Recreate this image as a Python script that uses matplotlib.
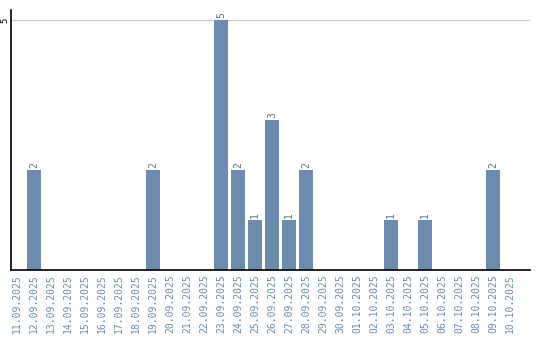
import matplotlib
matplotlib.use('Agg')
import matplotlib.pyplot as plt

dates = ['11.09.2025', '12.09.2025', '13.09.2025', '14.09.2025', '15.09.2025',
         '16.09.2025', '17.09.2025', '18.09.2025', '19.09.2025', '20.09.2025',
         '21.09.2025', '22.09.2025', '23.09.2025', '24.09.2025', '25.09.2025',
         '26.09.2025', '27.09.2025', '28.09.2025', '29.09.2025', '30.09.2025',
         '01.10.2025', '02.10.2025', '03.10.2025', '04.10.2025', '05.10.2025',
         '06.10.2025', '07.10.2025', '08.10.2025', '09.10.2025', '10.10.2025']
counts = [0, 2, 0, 0, 0, 0, 0, 0, 2, 0,
          0, 0, 5, 2, 1, 3, 1, 2, 0, 0,
          0, 0, 1, 0, 1, 0, 0, 0, 2, 0]

bar_color = '#6b8cae'
label_color = '#6a8caf'

plt.rcParams['font.family'] = 'DejaVu Sans Mono'

fig = plt.figure(figsize=(5.4, 3.4), dpi=100)
ax = fig.add_axes([11 / 540, 70 / 340, 519 / 540, 260 / 340])

x = range(len(dates))
bars = ax.bar(x, counts, width=0.82, color=bar_color, zorder=2)
for xi, v in zip(x, counts):
    if v > 0:
        ax.text(xi, v + 0.05, str(v), rotation=90, ha='center', va='bottom',
                fontsize=7, color='#5f6f80')

ax.set_xlim(-0.35, 30.18)
ax.set_ylim(0, 5.2)
ax.set_yticks([5])
ax.set_yticklabels(['5'], rotation=90, va='center', fontsize=6.5)
ax.yaxis.grid(True, color='#cccccc', linewidth=1, zorder=0)
ax.set_xticks(list(x))
ax.set_xticklabels(dates, rotation=90, fontsize=7, color=label_color)
ax.tick_params(axis='x', length=0, pad=3)
ax.tick_params(axis='y', length=0, pad=1)
ax.spines['top'].set_visible(False)
ax.spines['right'].set_visible(False)
ax.spines['left'].set_linewidth(1.2)
ax.spines['bottom'].set_linewidth(1.2)

fig.savefig('out.png', dpi=100)
